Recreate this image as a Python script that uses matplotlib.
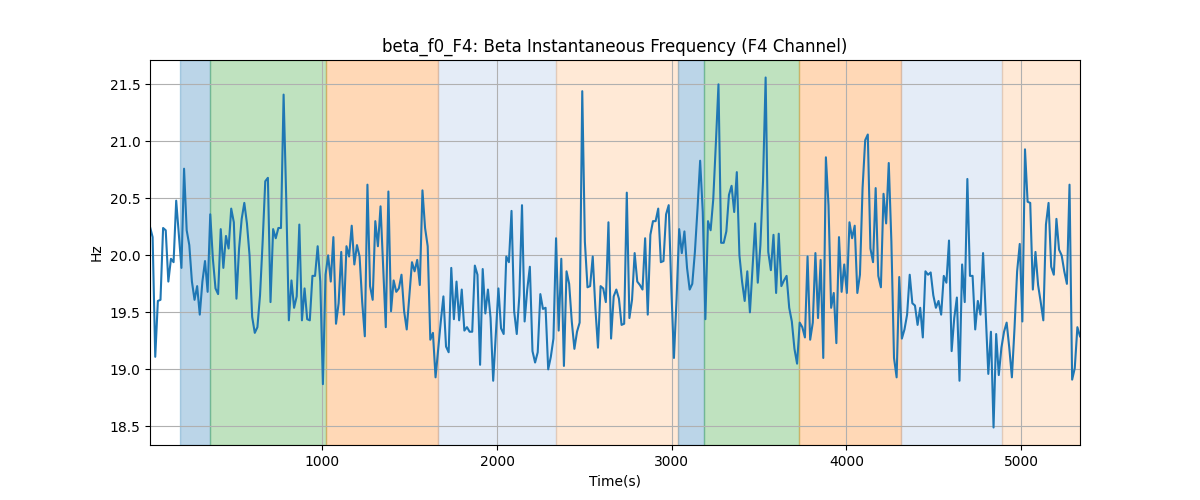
import numpy as np
import matplotlib
matplotlib.use("Agg")
import matplotlib.pyplot as plt

# beta instantaneous frequency, F4 channel (Hz)
freq_hz = [
    20.25, 20.16, 19.11, 19.60, 19.61, 20.24, 20.22, 19.77, 19.97, 19.94,
    20.48, 20.18, 19.89, 20.76, 20.22, 20.09, 19.77, 19.61, 19.73, 19.48,
    19.77, 19.95, 19.68, 20.36, 19.97, 19.71, 19.66, 20.23, 19.89, 20.17,
    20.06, 20.41, 20.29, 19.62, 20.06, 20.32, 20.46, 20.28, 20.00, 19.46,
    19.32, 19.37, 19.65, 20.12, 20.65, 20.68, 19.59, 20.23, 20.15, 20.24,
    20.24, 21.41, 20.50, 19.43, 19.78, 19.54, 19.64, 20.27, 19.43, 19.71,
    # ~1000 s
    19.44, 19.43, 19.82, 19.82, 20.08, 19.77, 18.87, 19.83, 20.00, 19.77,
    20.16, 19.40, 19.58, 20.03, 19.48, 20.08, 19.99, 20.26, 19.92, 20.09,
    19.99, 19.59, 19.29, 20.62, 19.73, 19.61, 20.30, 20.08, 20.43, 19.89,
    19.37, 20.56, 19.51, 19.78, 19.68, 19.71, 19.83, 19.51, 19.35, 19.65,
    19.94, 19.86, 19.96, 19.74, 20.57, 20.24, 20.08, 19.26, 19.32, 18.93,
    19.18, 19.42, 19.64, 19.20, 19.15, 19.89, 19.44, 19.77, 19.43,
    # ~1800 s
    19.70, 19.34, 19.37, 19.33, 19.33, 19.91, 19.83, 19.04, 19.88, 19.49,
    19.70, 19.45, 18.90, 19.30, 19.71, 19.36, 19.31, 19.99, 19.94, 20.39,
    19.51, 19.31, 19.65, 20.44, 19.42, 19.70, 19.90, 19.16, 19.06, 19.15,
    19.66, 19.53, 19.54, 19.00, 19.11, 19.27, 20.15, 19.34, 19.97, 19.03,
    19.86, 19.75, 19.42, 19.18, 19.33, 19.41, 21.44, 20.12, 19.72, 19.73,
    19.99, 19.54, 19.19, 19.73, 19.71, 19.59, 20.29, 19.27, 19.64,
    # ~2650 s
    19.70, 19.62, 19.39, 19.40, 20.55, 19.45, 19.61, 20.02, 19.77, 19.74,
    19.70, 20.15, 19.48, 20.18, 20.30, 20.30, 20.41, 19.94, 19.95, 20.36,
    20.44, 19.71, 19.10, 19.62, 20.23, 20.02, 20.21, 19.89, 19.70, 19.75,
    20.03, 20.41, 20.83, 20.38, 19.44, 20.30, 20.22, 20.49, 20.98, 21.50,
    20.11, 20.11, 20.21, 20.53, 20.61, 20.38, 20.73, 20.00, 19.77, 19.60,
    19.86, 19.50, 19.89, 20.28, 19.76, 20.09, 20.65, 21.56, 20.03,
    # ~3550 s
    19.87, 20.18, 19.67, 20.19, 19.73, 19.78, 19.82, 19.54, 19.42, 19.18,
    19.05, 19.41, 19.37, 19.28, 19.99, 19.26, 19.41, 20.02, 19.45, 19.96,
    19.10, 20.86, 20.44, 19.54, 19.67, 19.23, 20.16, 19.68, 19.92, 19.67,
    20.29, 20.15, 20.26, 19.67, 19.83, 20.59, 21.01, 21.06, 20.06, 19.94,
    20.59, 19.82, 19.72, 20.54, 20.28, 20.81, 20.12, 19.10, 18.93, 19.81,
    19.27, 19.35, 19.48, 19.83, 19.58, 19.56, 19.39, 19.54, 19.28,
    # ~4440 s
    19.86, 19.83, 19.85, 19.65, 19.54, 19.60, 19.48, 19.82, 19.76, 20.13,
    19.16, 19.45, 19.63, 18.90, 19.92, 19.59, 20.67, 19.82, 19.82, 19.35,
    19.60, 19.48, 20.02, 19.48, 18.96, 19.33, 18.49, 19.31, 18.95, 19.19,
    19.33, 19.41, 19.19, 18.93, 19.36, 19.86, 20.10, 19.42, 20.93, 20.47,
    20.46, 19.70, 20.03, 19.74, 19.59, 19.43, 20.27, 20.46, 19.90, 19.83,
    20.32, 20.05, 20.00, 19.86, 19.75, 20.62, 18.91, 19.01, 19.37, 19.29,
]
t_start, t_end = 13, 5337

# shaded segments: (start, end, colour, alpha)
seg_start = [183, 354, 1020, 1664, 2338, 3037, 3186, 3730, 4311, 4892]
seg_end = [354, 1020, 1664, 2338, 3037, 3186, 3730, 4311, 4892, 5337]
seg_color = ['tab:blue', 'tab:green', 'tab:orange', '#608fd0', 'tab:orange',
             'tab:blue', 'tab:green', 'tab:orange', '#608fd0', 'tab:orange']
seg_alpha = [0.3, 0.3, 0.3, 0.17, 0.17, 0.3, 0.3, 0.3, 0.17, 0.17]

time_s = np.linspace(t_start, t_end, len(freq_hz))

fig, ax = plt.subplots(figsize=(12, 5), dpi=100)

for a, b, c, al in zip(seg_start, seg_end, seg_color, seg_alpha):
    ax.axvspan(a, b, color=c, alpha=al)

ax.plot(time_s, freq_hz, color='tab:blue', linewidth=1.5)

ax.set_xlim(t_start, t_end)
ax.set_title("beta_f0_F4: Beta Instantaneous Frequency (F4 Channel)")
ax.set_xlabel("Time(s)")
ax.set_ylabel("Hz")
ax.grid(True)

fig.savefig("out.png")
